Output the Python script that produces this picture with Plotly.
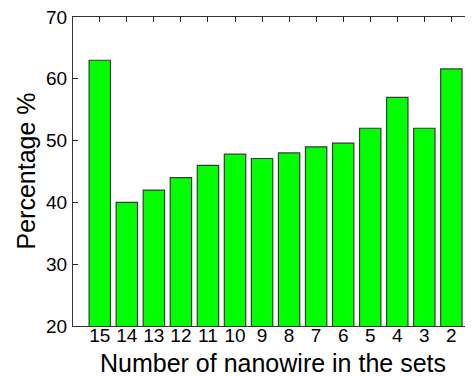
import plotly.graph_objects as go

categories = ["15", "14", "13", "12", "11", "10", "9", "8", "7", "6", "5", "4", "3", "2"]
percentages = [63, 40, 42, 44, 46, 47.8, 47.1, 48, 49, 49.6, 52, 57, 52, 61.6]
y_ticks = [20, 30, 40, 50, 60, 70]

FONT = "Liberation Sans, Arial, sans-serif"
X_RANGE = [-0.99, 13.8]

fig = go.Figure()
fig.add_trace(go.Bar(
    x=categories,
    y=percentages,
    marker=dict(color="#00FF00", line=dict(color="#3a3a3a", width=1.2)),
    width=0.79,
))

fig.update_layout(
    width=465,
    height=368,
    margin=dict(l=65, r=0, t=9, b=50),
    paper_bgcolor="white",
    plot_bgcolor="white",
    showlegend=False,
    font=dict(family=FONT, color="black"),
    xaxis=dict(
        type="category",
        range=X_RANGE,
        showline=True,
        mirror="ticks",
        linecolor="#333333",
        linewidth=1,
        ticks="inside",
        ticklen=5,
        tickwidth=1.3,
        tickcolor="#222222",
        tickfont=dict(size=19, family=FONT, color="black"),
        ticklabelstandoff=-8,
        showgrid=False,
        zeroline=False,
        layer="below traces",
        automargin=False,
    ),
    yaxis=dict(
        range=[20, 70],
        tickvals=y_ticks,
        showline=True,
        linecolor="#333333",
        linewidth=1,
        ticks="inside",
        ticklen=5,
        tickwidth=1.3,
        tickcolor="#222222",
        tickfont=dict(size=19, family=FONT, color="black"),
        ticklabelstandoff=1,
        ticklabeloverflow="allow",
        showgrid=False,
        zeroline=False,
        layer="above traces",
        automargin=False,
    ),
    annotations=[
        dict(text="Number of nanowire in the sets", xref="paper", yref="paper",
             x=0.5, y=0, xanchor="center", yanchor="middle", yshift=-37,
             showarrow=False, font=dict(size=25, family=FONT, color="black")),
        dict(text="Percentage %", xref="paper", yref="paper",
             x=0, y=0.5, xanchor="center", yanchor="middle", xshift=-48,
             textangle=-90, showarrow=False,
             font=dict(size=25, family=FONT, color="black")),
    ],
)

fig.write_html("out.html")
